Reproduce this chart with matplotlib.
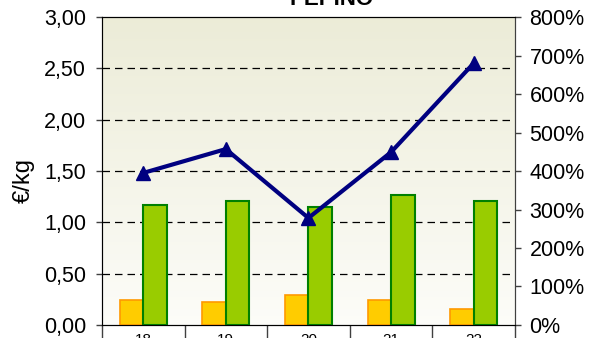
import numpy as np
import matplotlib
matplotlib.use("Agg")
import matplotlib.pyplot as plt
from matplotlib.ticker import FuncFormatter, FixedLocator

plt.rcParams['font.family'] = ['Liberation Sans', 'DejaVu Sans']

# Data
years = ["18", "19", "20", "21", "22"]
precio_origen = [0.24, 0.22, 0.29, 0.24, 0.16]      # €/kg, orange bars
precio_destino = [1.17, 1.21, 1.15, 1.27, 1.21]     # €/kg, green bars
diferencia_pct = [395, 457, 278, 449, 680]          # %, line on right axis
title = "PEPINO"

fig = plt.figure(figsize=(6.03, 3.38), dpi=100)
ax = fig.add_axes([0.169, 0.0385, 0.685, 0.911])

x = np.arange(len(years))
w = 0.285

# gradient background of the plot area
top = np.array([0.925, 0.925, 0.845])
bot = np.array([0.99, 0.99, 0.975])
t = np.linspace(0, 1, 256)[:, None]
grad = (bot * (1 - t) + top * t)[:, None, :].repeat(2, axis=1)
ax.imshow(grad, extent=[0, 1, 0, 1], transform=ax.transAxes, origin='lower',
          aspect='auto', zorder=0)

ax.bar(x - w / 2, precio_origen, width=w, color='#FFCC00', edgecolor='#FF9900',
       linewidth=1.2, zorder=3)
ax.bar(x + w / 2, precio_destino, width=w, color='#99CC00', edgecolor='#008000',
       linewidth=1.5, zorder=3)

ax.set_xlim(-0.5, len(years) - 0.5)
ax.set_ylim(0, 3)
ax.set_yticks(np.arange(0, 3.01, 0.5))
ax.yaxis.set_major_formatter(FuncFormatter(lambda v, p: f"{v:.2f}".replace('.', ',')))
for yv in np.arange(0.5, 2.51, 0.5):
    ax.axhline(yv, color='black', linestyle=(0, (6, 4)), linewidth=0.9, zorder=1)

ax.set_xticks(x)
ax.set_xticklabels(years)
ax.xaxis.set_minor_locator(FixedLocator(np.arange(-0.5, len(years), 1.0)))
ax.tick_params(axis='x', which='major', length=0, pad=6, labelsize=11)
ax.tick_params(axis='x', which='minor', length=10, width=1, color='#404040')
ax.tick_params(axis='y', length=4.5, width=1, labelsize=15.5, pad=7, color='#404040')

fig.text(24 / 603, 1 - 180 / 338, "€/kg", rotation=90, ha='center', va='center',
         fontsize=17)

for s in ['left', 'right']:
    ax.spines[s].set_color('#404040')
ax.spines['top'].set_color('black')
ax.spines['bottom'].set_color('black')

ax2 = ax.twinx()
ax2.set_ylim(0, 800)
ax2.set_yticks(np.arange(0, 801, 100))
ax2.yaxis.set_major_formatter(FuncFormatter(lambda v, p: f"{int(v)}%"))
ax2.tick_params(axis='y', length=4.5, width=1, labelsize=15.5, pad=6, color='#404040')
ax2.plot(x, diferencia_pct, color='#000080', linewidth=3, marker='^',
         markersize=10, zorder=5)
ax2.spines['right'].set_color('#404040')

fig.text(332 / 603, 1 - 5 / 338, title, ha='center', va='baseline',
         fontsize=16, fontweight='bold')

fig.savefig("out.png", dpi=100)
